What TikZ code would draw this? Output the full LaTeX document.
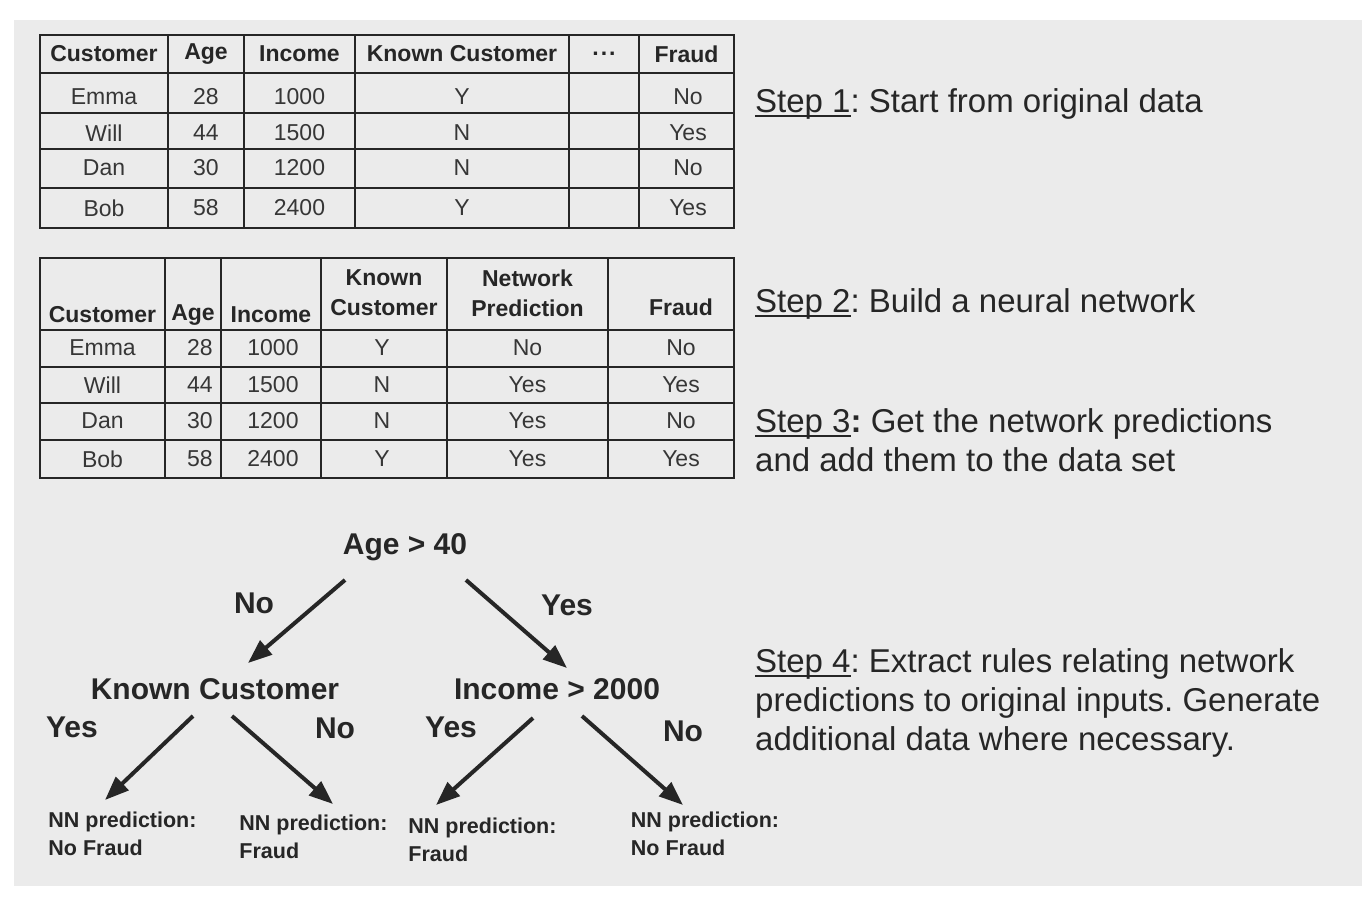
\documentclass[tikz,border=0pt]{standalone}
\usepackage{fontspec}
\setmainfont{Liberation Sans}
\usetikzlibrary{arrows.meta}
\definecolor{bg}{HTML}{EBEBEB}
\definecolor{ink}{HTML}{262626}
\definecolor{cell}{HTML}{363636}
\frenchspacing
\newcommand\stepul[1]{\setbox0\hbox{#1}\rlap{\rule[-5pt]{\wd0}{2pt}}\box0}
\begin{document}
\begin{tikzpicture}[x=1pt,y=-1pt,
  hdr/.style={font=\fontsize{23}{30}\selectfont\bfseries, text=ink, inner sep=0pt, align=center},
  dat/.style={font=\fontsize{23}{27}\selectfont, text=cell, inner sep=0pt},
  gridline/.style={draw=ink, line width=2pt},
  steptxt/.style={font=\fontsize{33}{39}\selectfont\frenchspacing, text=ink, inner sep=0pt, anchor=base west},
  cond/.style={font=\fontsize{30}{34}\selectfont\bfseries, text=ink, inner sep=0pt},
  lbl/.style={font=\fontsize{30}{34}\selectfont\bfseries, text=ink, inner sep=0pt},
  leaf/.style={font=\fontsize{21.5}{28}\selectfont\bfseries, text=ink, inner sep=0pt, align=left},
  arr/.style={draw=ink, line width=4pt, -{Triangle[length=24pt,width=18pt]}}
]
\useasboundingbox (0,0) rectangle (1372,900);
\fill[white] (0,0) rectangle (1372,900);
\fill[bg] (14,20) rectangle (1362,886);

% ---------- Table 1 ----------
\draw[gridline] (40,35) rectangle (734,228);
\foreach \x in {168,244,355,569,639} \draw[gridline] (\x,35) -- (\x,228);
\foreach \y in {73,113,149,188} \draw[gridline] (40,\y) -- (734,\y);
\node[hdr] (ta1) at (104,54) {Customer};
\node[hdr] (ta2) at (206,54) {Age};
\node[hdr] (ta3) at (299.5,54) {Income};
\node[hdr] (ta4) at (462,54) {Known Customer};
\node[hdr] (ta5) at (604,54) {\textbf{.\kern2pt.\kern2pt.}};
\node[hdr] (ta6) at (686.5,54) {Fraud};
\foreach \y/\a/\b/\c/\d/\f [count=\r] in {97/Emma/28/1000/Y/No,133/Will/44/1500/N/Yes,168/Dan/30/1200/N/No,208/Bob/58/2400/Y/Yes}{
  \node[dat] (ta-\r-1) at (104,\y) {\a};
  \node[dat] (ta-\r-2) at (206,\y) {\b};
  \node[dat] (ta-\r-3) at (299.5,\y) {\c};
  \node[dat] (ta-\r-4) at (462,\y) {\d};
  \node[dat] (ta-\r-6) at (688,\y) {\f};
}

% ---------- Table 2 ----------
\draw[gridline] (40,258) rectangle (734,478);
\foreach \x in {165,221,321,447,608} \draw[gridline] (\x,258) -- (\x,478);
\foreach \y in {330,367,403,440} \draw[gridline] (40,\y) -- (734,\y);
\node[hdr] (tb1) at (102.5,315) {Customer};
\node[hdr] (tb2) at (193,315) {Age};
\node[hdr] (tb3) at (271,315) {Income};
\node[hdr] (tb4) at (384,293) {Known\\Customer};
\node[hdr] (tb5) at (527.5,293) {Network\\Prediction};
\node[hdr] (tb6) at (681,307) {Fraud};
\foreach \y/\a/\b/\c/\d/\e/\f [count=\r] in {348/Emma/28/1000/Y/No/No,385/Will/44/1500/N/Yes/Yes,421/Dan/30/1200/N/Yes/No,459/Bob/58/2400/Y/Yes/Yes}{
  \node[dat] (tb-\r-1) at (102.5,\y) {\a};
  \node[dat] (tb-\r-2) at (200,\y) {\b};
  \node[dat] (tb-\r-3) at (273,\y) {\c};
  \node[dat] (tb-\r-4) at (382,\y) {\d};
  \node[dat] (tb-\r-5) at (527.5,\y) {\e};
  \node[dat] (tb-\r-6) at (681,\y) {\f};
}

% ---------- Steps ----------
\node[steptxt] (s1) at (755,112) {\stepul{Step 1}: Start from original data};
\node[steptxt] (s2) at (755,312) {\stepul{Step 2}: Build a neural network};
\node[steptxt] (s3a) at (755,432) {\stepul{Step 3}\textbf{:} Get the network predictions};
\node[steptxt] (s3b) at (755,471) {and add them to the data set};
\node[steptxt] (s4a) at (755,672) {\stepul{Step 4}: Extract rules relating network};
\node[steptxt] (s4b) at (755,711) {predictions to original inputs. Generate};
\node[steptxt] (s4c) at (755,750) {additional data where necessary.};

% ---------- Tree ----------
\node[cond] (age) at (405,547) {Age > 40};
\node[cond] (kc) at (215,689) {Known Customer};
\node[cond] (inc) at (557,689) {Income > 2000};

\node[leaf] (l1) at (122.5,834) {NN prediction:\\No Fraud};
\node[leaf] (l2) at (313.5,837) {NN prediction:\\Fraud};
\node[leaf] (l3) at (482.5,840) {NN prediction:\\Fraud};
\node[leaf] (l4) at (705,834) {NN prediction:\\No Fraud};

\draw[arr] ([shift={(-60,33)}]age.center) -- ([shift={(33,-26)}]kc.center);
\draw[arr] ([shift={(61,33)}]age.center) -- ([shift={(10,-21)}]inc.center);
\draw[arr] ([shift={(-22,27)}]kc.center) -- ([shift={(-17.5,-34)}]l1.center);
\draw[arr] ([shift={(17,27)}]kc.center) -- ([shift={(19.5,-33)}]l2.center);
\draw[arr] ([shift={(-24,29)}]inc.center) -- ([shift={(-46.5,-35)}]l3.center);
\draw[arr] ([shift={(25,27)}]inc.center) -- ([shift={(-22,-29)}]l4.center);

\node[lbl] (n1) at (254,603) {No};
\node[lbl] (y1) at (567,605) {Yes};
\node[lbl] (y2) at (72,727) {Yes};
\node[lbl] (n2) at (335,728) {No};
\node[lbl] (y3) at (451,727) {Yes};
\node[lbl] (n3) at (683,731) {No};
\end{tikzpicture}
\end{document}
